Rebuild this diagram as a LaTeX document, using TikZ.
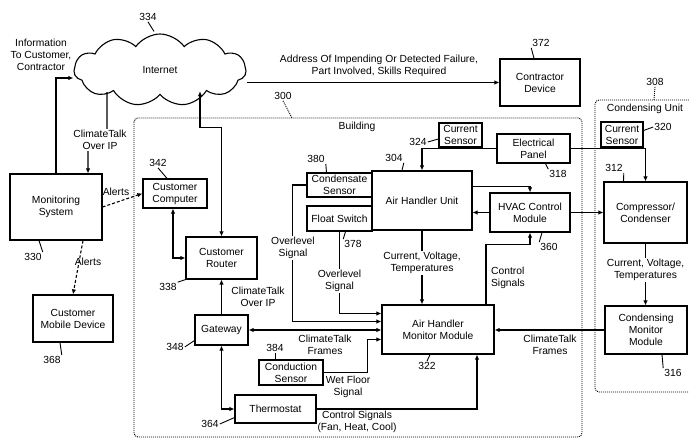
\documentclass[tikz,border=0pt]{standalone}
\usepackage{fontspec}
\setmainfont{Liberation Sans}
\usepackage{tikz}
\usetikzlibrary{shapes.symbols, arrows.meta, calc}

\begin{document}
\begin{tikzpicture}[x=1pt, y=-1pt,
    every node/.style={font=\fontsize{10.3}{12}\selectfont},
    box/.style={draw, line width=1.2pt, align=center, inner sep=1pt},
    lbl/.style={align=center, inner sep=1pt},
    wlbl/.style={lbl, fill=white},
    refnum/.style={inner sep=1pt},
    wire/.style={line width=1.1pt},
    arr/.style={wire, -{Latex[length=5pt,width=4.5pt]}},
    dbl/.style={wire, {Latex[length=5pt,width=4.5pt]}-{Latex[length=5pt,width=4.5pt]}},
    alert/.style={arr, dash pattern=on 3pt off 2pt},
    leader/.style={line width=0.9pt},
    dotleader/.style={leader, dash pattern=on 1pt off 1pt},
    dotframe/.style={line width=0.9pt, dash pattern=on 1pt off 1pt, rounded corners=4pt}]

    \path[fill=white, use as bounding box] (0,0) rectangle (689,438);

    % Building and Condensing Unit frames
    \draw[dotframe] (134,118) rectangle (582,437);
    \node[lbl] (building) at (357,127) {Building};
    \draw[dotframe] (689,100) -- (595,100) -- (595,392) -- (689,392);
    \node[lbl] (cunit) at (645,109) {Condensing Unit};

    % Internet
    \node[cloud, draw, line width=1.1pt, cloud puffs=11, cloud puff arc=110, cloud ignores aspect,
          minimum width=172pt, minimum height=72pt, inner sep=0pt] (cloud) at (160,70) {Internet};
    \node[lbl] (info) at (41,55) {Information\\To Customer,\\Contractor};

    % Outside the building
    \node[box, minimum width=92pt, minimum height=66pt] (monitor) at (56,207) {Monitoring\\System};
    \node[box, minimum width=80pt, minimum height=47pt] (mobile) at (73,318.5) {Customer\\Mobile Device};
    \node[box, minimum width=80pt, minimum height=47pt] (contractor) at (540,82.5) {Contractor\\Device};

    % Inside the building
    \node[box, minimum width=64pt, minimum height=29pt] (computer) at (175,193.5) {Customer\\Computer};
    \node[box, minimum width=71pt, minimum height=42pt] (router) at (221.5,258) {Customer\\Router};
    \node[box, minimum width=53pt, minimum height=30pt] (gateway) at (221.5,330) {Gateway};
    \node[box, minimum width=81pt, minimum height=28pt] (thermostat) at (275.5,409) {Thermostat};
    \node[box, minimum width=64pt, minimum height=25pt] (conduction) at (291,372.5) {Conduction\\Sensor};
    \node[box, minimum width=112pt, minimum height=49pt] (ahmm) at (438,329.5) {Air Handler\\Monitor Module};
    \node[box, minimum width=100pt, minimum height=59pt] (ahu) at (422,200.5) {Air Handler Unit};
    \node[box, minimum width=65pt, minimum height=24pt] (condensate) at (339.5,185) {Condensate\\Sensor};
    \node[box, minimum width=65pt, minimum height=25pt] (float) at (339.5,218.5) {Float Switch};
    \node[box, minimum width=43pt, minimum height=24pt] (cursens) at (460.5,135) {Current\\Sensor};
    \node[box, minimum width=73pt, minimum height=29pt] (panel) at (533.5,148.5) {Electrical\\Panel};
    \node[box, minimum width=80pt, minimum height=39pt] (hvac) at (530,212.5) {HVAC Control\\Module};

    % Condensing unit
    \node[box, minimum width=42pt, minimum height=25pt] (cursenscu) at (622,134.5) {Current\\Sensor};
    \node[box, minimum width=83pt, minimum height=61pt] (compressor) at (645.5,212.5) {Compressor/\\Condenser};
    \node[box, minimum width=82pt, minimum height=48pt] (cmm) at (646,330) {Condensing\\Monitor\\Module};

    % Connections outside
    \draw[arr] (monitor.north) |- ([yshift=-8pt]cloud.west);
    \draw[arr] ([xshift=-53pt,yshift=3pt]cloud.south) |- ++(-19,58) -- ([xshift=32pt]monitor.north);
    \draw[arr] (contractor.west -| cloud.east) -- (contractor.west);
    \draw[alert] (monitor.east) -- (computer.west);
    \draw[alert] ([xshift=27pt]monitor.south) -- (mobile.north);
    \draw[dbl] ([xshift=40pt,yshift=4pt]cloud.south) -- ++(0,36) -| (router.north);

    % Connections in the building
    \draw[dbl] ([xshift=-2pt]computer.south) |- (router.west);
    \draw[arr] (gateway.north) -- (router.south);
    \draw[dbl] (gateway.east) -- (gateway.east -| ahmm.west);
    \draw[dbl] (gateway.south) |- (thermostat.west);
    \draw[arr] (thermostat.east) -| ([xshift=39pt]ahmm.south);
    \draw[arr] (conduction.east) -- ++(44,0) |- ([yshift=-10pt]ahmm.west);
    \draw[arr] (condensate.west) -- ++(-14,0) |- ([yshift=8pt]ahmm.west);
    \draw[arr] (float.south) |- ([yshift=16pt]ahmm.west);
    \draw[arr] (ahu.south) -- (ahu.south |- ahmm.north);
    \draw[arr] (panel.west) -| (ahu.north);
    \draw[arr] (panel.east) -| (compressor.north);
    \draw[arr] ([yshift=14pt]ahu.east) -| (hvac.north);
    \draw[arr] (hvac.west) -- (hvac.west -| ahu.east);
    \draw[arr] (hvac.east) -- (hvac.east -| compressor.west);
    \draw[arr] ([xshift=48pt]ahmm.north) -- ++(0,-60) -| (hvac.south);
    \draw[arr] (compressor.south) -- (compressor.south |- cmm.north);
    \draw[arr] (cmm.west) -- (cmm.west -| ahmm.east);

    % Connector labels
    \node[wlbl] (tocloud) at (100,140) {ClimateTalk\\Over IP};
    \node[lbl] (failure) at (379,66) {Address Of Impending Or Detected Failure,\\Part Involved, Skills Required};
    \node[lbl] (alert1) at (116,192) {Alerts};
    \node[lbl] (alert2) at (88,262) {Alerts};
    \node[lbl] (gwip) at (258,297) {ClimateTalk\\Over IP};
    \node[lbl] (gwframes) at (325,345) {ClimateTalk\\Frames};
    \node[lbl] (tstat) at (357,422) {Control Signals\\(Fan, Heat, Cool)};
    \node[lbl] (wetfloor) at (348,387) {Wet Floor\\Signal};
    \node[wlbl] (over1) at (293,248) {Overlevel\\Signal};
    \node[wlbl] (over2) at (339.5,281) {Overlevel\\Signal};
    \node[wlbl] (cvt1) at (422,263) {Current, Voltage,\\Temperatures};
    \node[lbl, align=left] (ctrl) at (508,278) {Control\\Signals};
    \node[wlbl] (cvt2) at (645.5,270) {Current, Voltage,\\Temperatures};
    \node[lbl] (cuframes) at (550,345) {ClimateTalk\\Frames};

    % Reference numerals
    \node[refnum] (n334) at (148,17) {334};
    \draw[leader] (n334.south) -- ([xshift=-6pt,yshift=2pt]cloud.north);
    \node[refnum] (n372) at (541,43) {372};
    \draw[leader] (n372.south west) -- ([xshift=-6pt]contractor.north);
    \node[refnum] (n300) at (283,96) {300};
    \draw[dotleader] (n300.south) -- (292,118);
    \node[refnum] (n308) at (655,82) {308};
    \draw[dotleader] (n308.south) -- (654,100);
    \node[refnum] (n330) at (33,257) {330};
    \draw[leader] (n330.north east) -- ([xshift=-17pt]monitor.south);
    \node[refnum] (n368) at (52,360) {368};
    \draw[leader] (n368.north east) -- ([xshift=-13pt]mobile.south);
    \node[refnum] (n342) at (158,163) {342};
    \draw[leader] (n342.south) -- ([xshift=-8pt]computer.north);
    \node[refnum] (n338) at (168,287) {338};
    \draw[leader] (n338.north east) -- (router.south west);
    \node[refnum] (n348) at (175,347) {348};
    \draw[leader] (n348.east) -- ([yshift=5pt]gateway.south west);
    \node[refnum] (n364) at (210,424) {364};
    \draw[leader] (n364.east) -- ([yshift=6pt]thermostat.south west);
    \node[refnum] (n384) at (275,348) {384};
    \draw[leader] (n384.south) -- ([xshift=-16pt]conduction.north);
    \node[refnum] (n322) at (427,366) {322};
    \draw[leader] (n322.north) -- ([xshift=-8pt]ahmm.south);
    \node[refnum] (n304) at (394,158) {304};
    \draw[leader] (n304.south east) -- ([xshift=-20pt]ahu.north);
    \node[refnum] (n380) at (316,159) {380};
    \draw[leader] (n380.south east) -- ([xshift=-13pt]condensate.north);
    \node[refnum] (n378) at (353,244) {378};
    \draw[leader] (n378.north west) -- ([xshift=6pt]float.south);
    \node[refnum] (n324) at (418,142) {324};
    \draw[leader] (n324.east) -- ([yshift=-4pt]cursens.west);
    \node[refnum] (n318) at (558,174) {318};
    \draw[leader] (n318.north west) -- ([xshift=12pt]panel.south);
    \node[refnum] (n360) at (549,247) {360};
    \draw[leader] (n360.north west) -- ([xshift=12pt]hvac.south);
    \node[refnum] (n320) at (663,127) {320};
    \draw[leader] (n320.west) -- ([yshift=4pt]cursenscu.east);
    \node[refnum] (n312) at (614,168) {312};
    \draw[leader] (n312.south east) -- ([xshift=-22pt]compressor.north);
    \node[refnum] (n316) at (673,373) {316};
    \draw[leader] (n316.north west) -- ([xshift=16pt]cmm.south);
\end{tikzpicture}
\end{document}
